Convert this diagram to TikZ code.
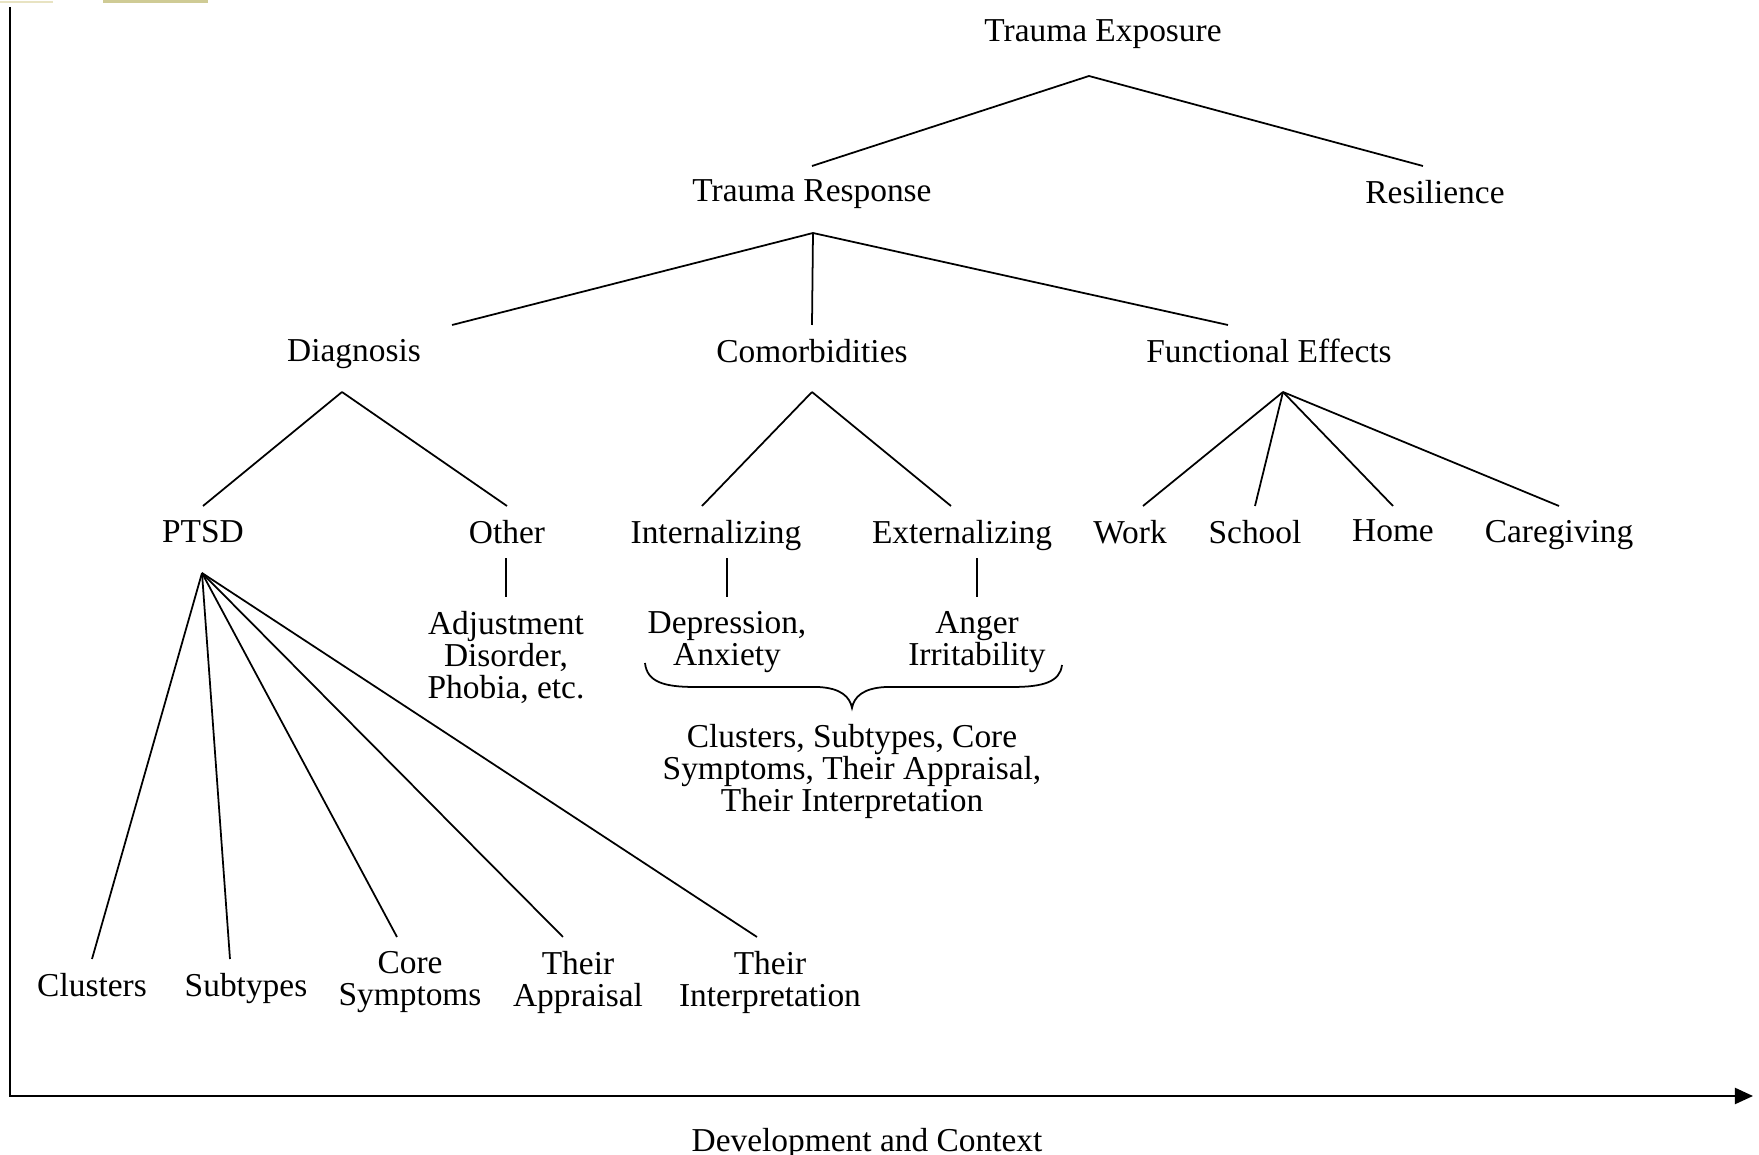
\documentclass[tikz,border=0pt]{standalone}
\usepackage{fontspec}
\setmainfont{Liberation Serif}
\usetikzlibrary{arrows.meta}
\definecolor{scanbar}{HTML}{CFCB95}
\definecolor{scanline}{HTML}{E8E3C2}
\setlength{\lineskiplimit}{-10pt}
\begin{document}
\begin{tikzpicture}[x=0.01cm,y=-0.01cm,
  lbl/.style={inner sep=0pt,outer sep=0.14cm,align=center,anchor=north,font=\fontsize{9.5}{9.1}\selectfont},
  branch/.style={line width=0.5pt},
  axis/.style={line width=0.6pt,-{Triangle[length=0.18cm,width=0.16cm]}}]
\useasboundingbox (0,0) rectangle (1759,1155);
\fill[scanline] (0,1) rectangle (53,3);
\fill[scanbar] (103,0) rectangle (208,3);
\draw[axis] (10,7) -- (10,1096) -- (1753,1096);
\node[lbl] (dev) at (867,1114) {Development and Context};
\node[lbl] (te) at (1103,6) {Trauma Exposure};
\coordinate (te-fork) at (1089,76);
\node[lbl] (tr) at (812,166) {Trauma Response};
\node[lbl] (res) at (1435,166) {Resilience};
\draw[branch] (te-fork) -- (tr.north);
\draw[branch] (te-fork) -- ([xshift=-0.12cm]res.north);
\coordinate (tr-fork) at (813,233);
\node[lbl] (diag) at (354,325) {Diagnosis};
\node[lbl] (comor) at (812,325) {Comorbidities};
\node[lbl] (func) at (1269,325) {Functional Effects};
\draw[branch] (tr-fork) -- ([xshift=0.98cm]diag.north);
\draw[branch] (tr-fork) -- (comor.north);
\draw[branch] (tr-fork) -- ([xshift=-0.41cm]func.north);
\coordinate (diag-fork) at (342,392);
\coordinate (comor-fork) at (812,392);
\coordinate (func-fork) at (1283,392);
\node[lbl] (ptsd) at (203,506) {PTSD};
\node[lbl] (othr) at (507,506) {Other};
\node[lbl] (intl) at (716,506) {Internalizing};
\node[lbl] (extl) at (962,506) {Externalizing};
\node[lbl] (work) at (1130,506) {Work};
\node[lbl] (school) at (1255,506) {School};
\node[lbl] (home) at (1393,506) {Home};
\node[lbl] (care) at (1559,506) {Caregiving};
\draw[branch] (diag-fork) -- (ptsd.north);
\draw[branch] (diag-fork) -- (othr.north);
\draw[branch] (comor-fork) -- ([xshift=-0.14cm]intl.north);
\draw[branch] (comor-fork) -- ([xshift=-0.11cm]extl.north);
\draw[branch] (func-fork) -- ([xshift=0.13cm]work.north);
\draw[branch] (func-fork) -- (school.north);
\draw[branch] (func-fork) -- (home.north);
\draw[branch] (func-fork) -- (care.north);
\node[lbl] (adj) at (506,597) {Adjustment\\Disorder,\\Phobia, etc.};
\node[lbl] (dep) at (727,597) {Depression,\\Anxiety};
\node[lbl] (anger) at (977,597) {Anger\\Irritability};
\draw[branch] (adj.north) -- (adj.north |- othr.south);
\draw[branch] (dep.north) -- (dep.north |- othr.south);
\draw[branch] (anger.north) -- (anger.north |- othr.south);
\draw[branch] (645,663) .. controls (647,682) and (664,687) .. (695,687) -- (818,687) .. controls (841,688) and (850,697) .. (852,708) .. controls (854,697) and (863,688) .. (886,687) -- (1012,687) .. controls (1043,687) and (1060,682) .. (1062,665);
\node[lbl] (sum) at (852,710) {Clusters, Subtypes, Core\\Symptoms, Their Appraisal,\\Their Interpretation};
\coordinate (ptsd-fork) at (202,573);
\node[lbl] (clus) at (92,959) {Clusters};
\node[lbl] (subt) at (246,959) {Subtypes};
\node[lbl] (core) at (410,937) {Core\\Symptoms};
\node[lbl] (appr) at (578,937) {Their\\Appraisal};
\node[lbl] (intp) at (770,937) {Their\\Interpretation};
\draw[branch] (ptsd-fork) -- (clus.north);
\draw[branch] (ptsd-fork) -- ([xshift=-0.16cm]subt.north);
\draw[branch] (ptsd-fork) -- ([xshift=-0.13cm]core.north);
\draw[branch] (ptsd-fork) -- ([xshift=-0.15cm]appr.north);
\draw[branch] (ptsd-fork) -- ([xshift=-0.13cm]intp.north);
\end{tikzpicture}
\end{document}
